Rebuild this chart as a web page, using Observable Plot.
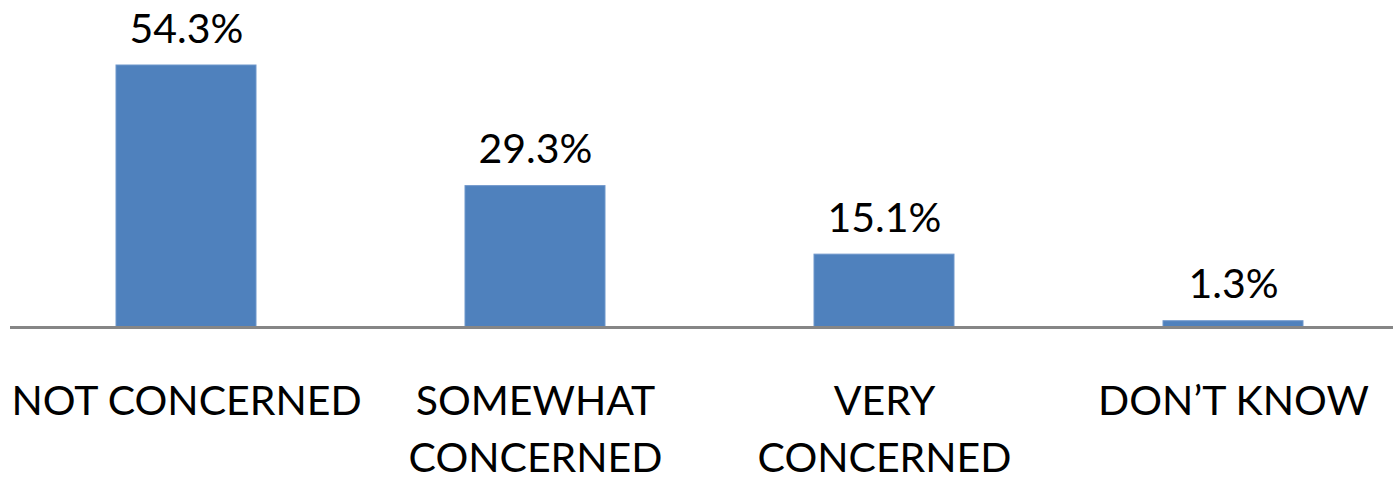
<!DOCTYPE html>
<html>
<head>
<meta charset="utf-8">
<script src="https://cdn.jsdelivr.net/npm/d3@7"></script>
<script src="https://cdn.jsdelivr.net/npm/@observablehq/plot@0.6"></script>
<style>
  html, body { margin: 0; padding: 0; background: #fff; }
  svg { display: block; }
</style>
</head>
<body>
<div id="chart"></div>
<script>
const categories = ["NOT CONCERNED", "SOMEWHAT CONCERNED", "VERY CONCERNED", "DON'T KNOW"];
const tickLabels = ["NOT CONCERNED", "SOMEWHAT\nCONCERNED", "VERY\nCONCERNED", "DON\u2019T KNOW"];
const values = [54.3, 29.3, 15.1, 1.3];
const valueLabels = ["54.3%", "29.3%", "15.1%", "1.3%"];

const data = categories.map((c, i) => ({category: c, value: values[i], label: valueLabels[i], tick: tickLabels[i]}));
const tickMap = new Map(data.map(d => [d.category, d.tick]));

const font = "Lato, 'Open Sans', sans-serif";

const chart = Plot.plot({
  width: 1393,
  height: 482,
  marginTop: 65,
  marginBottom: 155,
  marginLeft: 10,
  marginRight: 0,
  style: {fontFamily: font, background: "#fff"},
  x: {domain: categories, range: [10, 1408], paddingInner: 0.6, paddingOuter: 0.3, label: null},
  y: {domain: [0, 54.3], axis: null},
  marks: [
    Plot.barY(data, {x: "category", y: "value", fill: "#4F81BD", stroke: "#6F97CB", strokeWidth: 1}),
    Plot.ruleY([0], {stroke: "#868686", strokeWidth: 3}),
    Plot.text(data, {x: "category", y: "value", text: "label", lineAnchor: "bottom", dy: -23, fontSize: 41, fill: "#000", fontFamily: font}),
    Plot.axisX({
      tickSize: 0,
      tickPadding: 48,
      tickFormat: d => tickMap.get(d),
      fontSize: 41,
      lineHeight: 1.37,
      lineAnchor: "top",
      fill: "#000",
      fontFamily: font,
      label: null
    })
  ]
});
document.getElementById("chart").appendChild(chart);
</script>
</body>
</html>
